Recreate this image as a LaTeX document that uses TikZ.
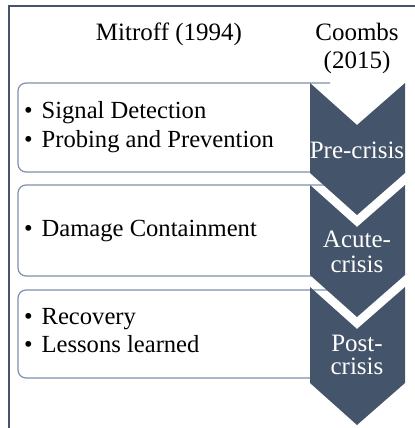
\documentclass[tikz,border=0pt]{standalone}
\usepackage{fontspec}
\setmainfont{Liberation Serif}
\definecolor{slate}{HTML}{44546A}
\definecolor{boxline}{HTML}{7F8FA9}

\begin{document}
\begin{tikzpicture}[x=0.5pt, y=-0.5pt,
    frame/.style={draw=slate, line width=0.8pt},
    phasebox/.style={draw=boxline, fill=white, line width=0.6pt, rounded corners=4pt},
    chevron/.style={fill=slate},
    head/.style={anchor=base, font=\fontsize{12.5}{12}\selectfont},
    item/.style={anchor=base west, font=\fontsize{12.3}{12}\selectfont},
    stage/.style={anchor=base, text=white, font=\fontsize{12.5}{12}\selectfont, inner sep=0pt}]

    % constants
    \def\xl{310}
    \def\xm{357}
    \def\xr{405}
    \def\dep{42}

    \useasboundingbox (0,0) rectangle (415,428);
    \clip (0,0) rectangle (415,428);

    % frame
    \draw[frame] (9,430) -- (9,6) -- (417,6);

    % headings
    \node[head] (mitroff) at (169,40) {Mitroff (1994)};
    \node[head] (coombsA) at (357,40) {Coombs};
    \node[head] (coombsB) at (357,68) {(2015)};

    % Mitroff boxes
    \draw[phasebox] (330,83) -- (18,83) -- (18,172) -- (330,172);
    \draw[phasebox] (330,185) -- (18,185) -- (18,276) -- (330,276);
    \draw[phasebox] (330,290) -- (18,290) -- (18,378) -- (330,378);

    \node[item] (signal) at (17,118) {\textbullet\hspace{4.5pt}Signal Detection};
    \node[item] (probing) at (17,147) {\textbullet\hspace{4.5pt}Probing and Prevention};
    \node[item] (damage) at (17,236) {\textbullet\hspace{4.5pt}Damage Containment};
    \node[item] (recovery) at (17,324) {\textbullet\hspace{4.5pt}Recovery};
    \node[item] (lessons) at (17,352) {\textbullet\hspace{4.5pt}Lessons learned};

    % Coombs chevrons
    \fill[chevron] (\xl,83) -- (\xm,83+\dep) -- (\xr,83) -- (\xr,173) -- (\xm,173+\dep) -- (\xl,173) -- cycle;
    \fill[chevron] (\xl,185) -- (\xm,185+\dep) -- (\xr,185) -- (\xr,275) -- (\xm,275+\dep) -- (\xl,275) -- cycle;
    \fill[chevron] (\xl,287) -- (\xm,287+\dep) -- (\xr,287) -- (\xr,383) -- (\xm,383+\dep) -- (\xl,383) -- cycle;

    \node[stage] (pre) at (\xm,158) {Pre-crisis};
    \node[stage] (acuteA) at (\xm,247) {Acute-};
    \node[stage] (acuteB) at (\xm,272) {crisis};
    \node[stage] (postA) at (\xm,351) {Post-};
    \node[stage] (postB) at (\xm,374) {crisis};

\end{tikzpicture}
\end{document}
